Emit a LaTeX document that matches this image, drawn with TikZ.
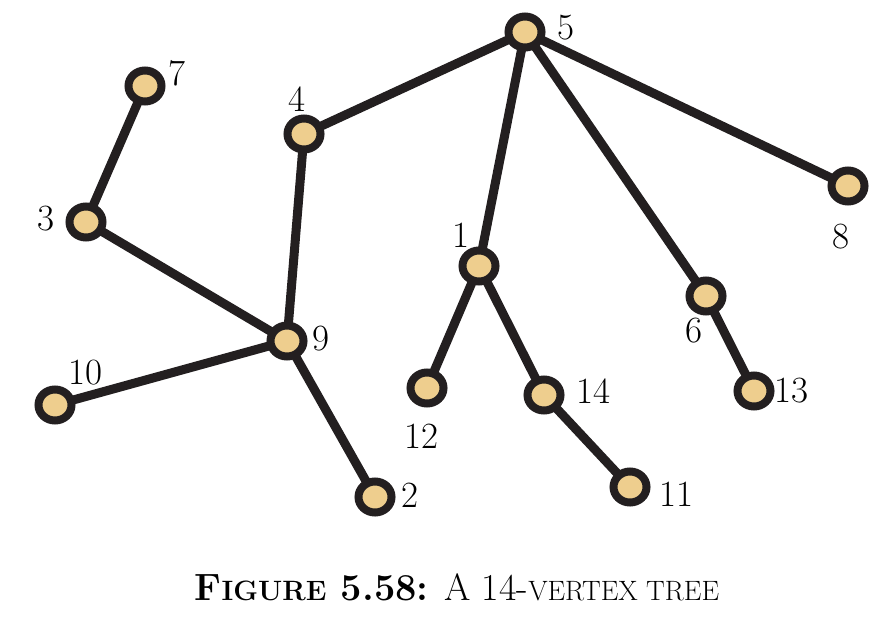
\documentclass[tikz,border=0pt]{standalone}
\usepackage{tikz}
\usetikzlibrary{shapes.geometric, positioning, backgrounds}
\definecolor{vertexfill}{RGB}{238,206,142}
\definecolor{vertexline}{RGB}{35,31,32}

\begin{document}
\begin{tikzpicture}[x=1pt,y=-1pt,
    vertex/.style={ellipse,draw=vertexline,fill=vertexfill,line width=8pt,minimum width=33pt,minimum height=31pt,inner sep=0pt},
    edge/.style={draw=vertexline,line width=9pt},
    lab/.style={font=\fontsize{37}{40}\selectfont,inner sep=0pt}]
    \useasboundingbox (0,0) rectangle (872,623);

    % Vertici
    \node[vertex] (v5) at (525,32) {};
    \node[vertex] (v7) at (145,86) {};
    \node[vertex] (v4) at (304,134) {};
    \node[vertex] (v3) at (86,222) {};
    \node[vertex] (v8) at (848,186) {};
    \node[vertex] (v1) at (479,266) {};
    \node[vertex] (v6) at (706,296) {};
    \node[vertex] (v9) at (287,341) {};
    \node[vertex] (v10) at (55,405) {};
    \node[vertex] (v12) at (427,388) {};
    \node[vertex] (v14) at (544,395) {};
    \node[vertex] (v13) at (754,391) {};
    \node[vertex] (v2) at (375,497) {};
    \node[vertex] (v11) at (630,487) {};

    % Etichette
    \node[lab] (l5) at (566,28) {5};
    \node[lab] (l7) at (177,73) {7};
    \node[lab] (l4) at (297,99) {4};
    \node[lab] (l3) at (46,219) {3};
    \node[lab] (l8) at (841,237) {8};
    \node[lab] (l1) at (461,235) {1};
    \node[lab] (l6) at (694,331) {6};
    \node[lab] (l9) at (321,339) {9};
    \node[lab] (l10) at (85,373) {10};
    \node[lab] (l12) at (421,436) {12};
    \node[lab] (l14) at (593,391) {14};
    \node[lab] (l13) at (791,391) {13};
    \node[lab] (l2) at (410,495) {2};
    \node[lab] (l11) at (676,494) {11};

    % Archi
    \begin{scope}[on background layer]
        \foreach \a/\b in {5/4, 5/1, 5/6, 5/8, 7/3, 3/9, 4/9, 9/10, 9/2, 1/12, 1/14, 14/11, 6/13}
            \draw[edge] (v\a.center) -- (v\b.center);
    \end{scope}

    % Didascalia
    \node[font=\fontsize{38}{42}\selectfont] (caption) at (457,587)
        {{\bfseries F{\fontsize{28}{30}\selectfont IGURE} 5.58:} A 14-{\fontsize{28}{30}\selectfont VERTEX TREE}};
\end{tikzpicture}
\end{document}
